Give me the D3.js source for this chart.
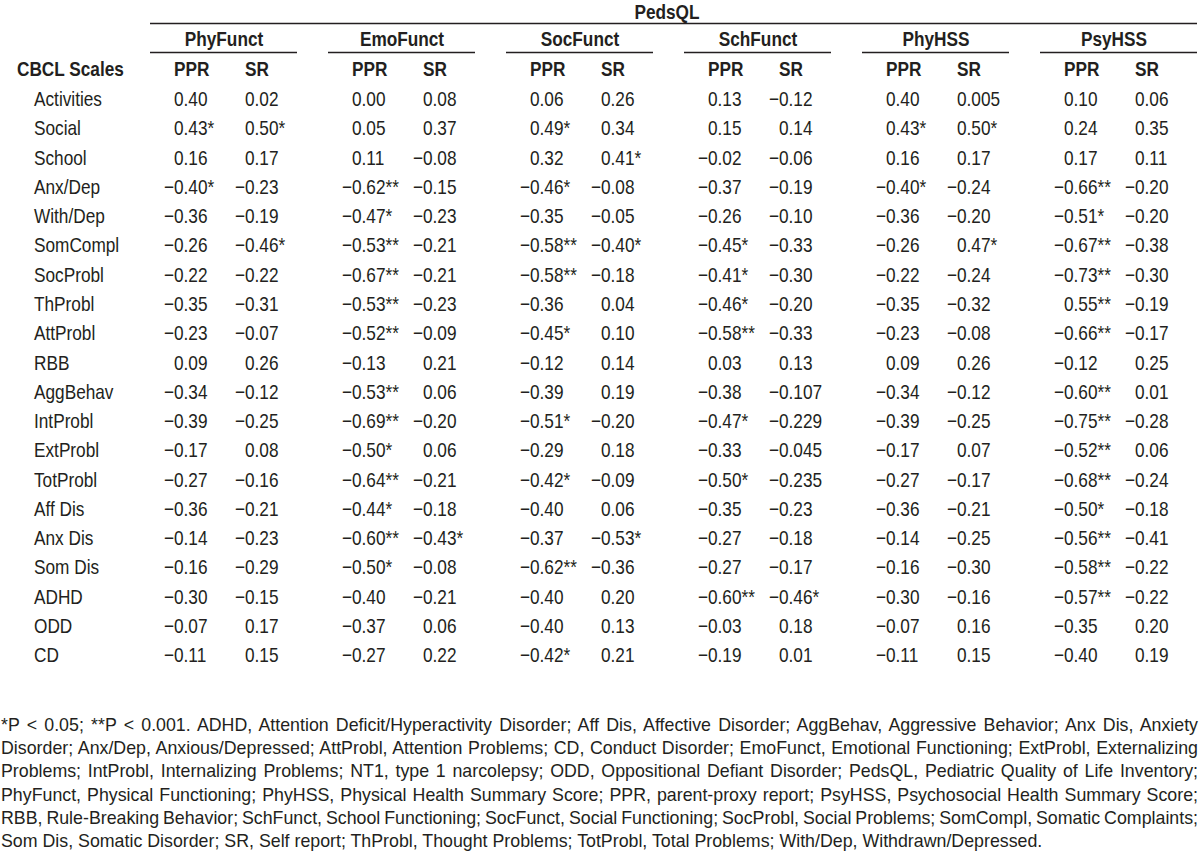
<!DOCTYPE html>
<html><head><meta charset="utf-8">
<script src="https://cdn.jsdelivr.net/npm/d3@7"></script>
<style>html,body{margin:0;padding:0;background:#fff;}svg{display:block;}</style>
</head><body>
<script>
// ---------- DATA ----------
const title = "PedsQL";
const groups = ["PhyFunct","EmoFunct","SocFunct","SchFunct","PhyHSS","PsyHSS"];
const subCols = ["PPR","SR"];
const rowHeader = "CBCL Scales";
const rows = ["Activities","Social","School","Anx/Dep","With/Dep","SomCompl","SocProbl","ThProbl","AttProbl","RBB","AggBehav","IntProbl","ExtProbl","TotProbl","Aff Dis","Anx Dis","Som Dis","ADHD","ODD","CD"];
const phyFunctPPR = ["0.40","0.43*","0.16","−0.40*","−0.36","−0.26","−0.22","−0.35","−0.23","0.09","−0.34","−0.39","−0.17","−0.27","−0.36","−0.14","−0.16","−0.30","−0.07","−0.11"];
const phyFunctSR  = ["0.02","0.50*","0.17","−0.23","−0.19","−0.46*","−0.22","−0.31","−0.07","0.26","−0.12","−0.25","0.08","−0.16","−0.21","−0.23","−0.29","−0.15","0.17","0.15"];
const emoFunctPPR = ["0.00","0.05","0.11","−0.62**","−0.47*","−0.53**","−0.67**","−0.53**","−0.52**","−0.13","−0.53**","−0.69**","−0.50*","−0.64**","−0.44*","−0.60**","−0.50*","−0.40","−0.37","−0.27"];
const emoFunctSR  = ["0.08","0.37","−0.08","−0.15","−0.23","−0.21","−0.21","−0.23","−0.09","0.21","0.06","−0.20","0.06","−0.21","−0.18","−0.43*","−0.08","−0.21","0.06","0.22"];
const socFunctPPR = ["0.06","0.49*","0.32","−0.46*","−0.35","−0.58**","−0.58**","−0.36","−0.45*","−0.12","−0.39","−0.51*","−0.29","−0.42*","−0.40","−0.37","−0.62**","−0.40","−0.40","−0.42*"];
const socFunctSR  = ["0.26","0.34","0.41*","−0.08","−0.05","−0.40*","−0.18","0.04","0.10","0.14","0.19","−0.20","0.18","−0.09","0.06","−0.53*","−0.36","0.20","0.13","0.21"];
const schFunctPPR = ["0.13","0.15","−0.02","−0.37","−0.26","−0.45*","−0.41*","−0.46*","−0.58**","0.03","−0.38","−0.47*","−0.33","−0.50*","−0.35","−0.27","−0.27","−0.60**","−0.03","−0.19"];
const schFunctSR  = ["−0.12","0.14","−0.06","−0.19","−0.10","−0.33","−0.30","−0.20","−0.33","0.13","−0.107","−0.229","−0.045","−0.235","−0.23","−0.18","−0.17","−0.46*","0.18","0.01"];
const phyHSSPPR   = ["0.40","0.43*","0.16","−0.40*","−0.36","−0.26","−0.22","−0.35","−0.23","0.09","−0.34","−0.39","−0.17","−0.27","−0.36","−0.14","−0.16","−0.30","−0.07","−0.11"];
const phyHSSSR    = ["0.005","0.50*","0.17","−0.24","−0.20","0.47*","−0.24","−0.32","−0.08","0.26","−0.12","−0.25","0.07","−0.17","−0.21","−0.25","−0.30","−0.16","0.16","0.15"];
const psyHSSPPR   = ["0.10","0.24","0.17","−0.66**","−0.51*","−0.67**","−0.73**","0.55**","−0.66**","−0.12","−0.60**","−0.75**","−0.52**","−0.68**","−0.50*","−0.56**","−0.58**","−0.57**","−0.35","−0.40"];
const psyHSSSR    = ["0.06","0.35","0.11","−0.20","−0.20","−0.38","−0.30","−0.19","−0.17","0.25","0.01","−0.28","0.06","−0.24","−0.18","−0.41","−0.22","−0.22","0.20","0.19"];
const footnoteLines = [
 "*P < 0.05; **P < 0.001. ADHD, Attention Deficit/Hyperactivity Disorder; Aff Dis, Affective Disorder; AggBehav, Aggressive Behavior; Anx Dis, Anxiety",
 "Disorder; Anx/Dep, Anxious/Depressed; AttProbl, Attention Problems; CD, Conduct Disorder; EmoFunct, Emotional Functioning; ExtProbl, Externalizing",
 "Problems; IntProbl, Internalizing Problems; NT1, type 1 narcolepsy; ODD, Oppositional Defiant Disorder; PedsQL, Pediatric Quality of Life Inventory;",
 "PhyFunct, Physical Functioning; PhyHSS, Physical Health Summary Score; PPR, parent-proxy report; PsyHSS, Psychosocial Health Summary Score;",
 "RBB, Rule-Breaking Behavior; SchFunct, School Functioning; SocFunct, Social Functioning; SocProbl, Social Problems; SomCompl, Somatic Complaints;",
 "Som Dis, Somatic Disorder; SR, Self report; ThProbl, Thought Problems; TotProbl, Total Problems; With/Dep, Withdrawn/Depressed."
];
const columns = [
  [phyFunctPPR, phyFunctSR],[emoFunctPPR, emoFunctSR],[socFunctPPR, socFunctSR],
  [schFunctPPR, schFunctSR],[phyHSSPPR, phyHSSSR],[psyHSSPPR, psyHSSSR]
];

// ---------- LAYOUT ----------
const W = 1200, H = 853;
const ink = "#231f20";
function hasFont(name){
  const c = document.createElement('canvas').getContext('2d');
  const s = 'Activities 0.40 WWW mmm';
  c.font = '20px monospace'; const a = c.measureText(s).width;
  c.font = `20px '${name}', monospace`; const b = c.measureText(s).width;
  return Math.abs(a-b) > 0.5;
}
const narrowOK = hasFont('Liberation Sans Narrow');
const tableFamily = narrowOK ? "'Liberation Sans Narrow', 'Arial Narrow', sans-serif" : "'Liberation Sans', Arial, sans-serif";
const squeeze = narrowOK ? 1 : 0.82;
const fs = 21;

const svg = d3.select("body").append("svg").attr("width", W).attr("height", H);

function squeezeText(sel){
  if (squeeze === 1) return;
  sel.each(function(){
    const w = this.getComputedTextLength();
    this.setAttribute("textLength", w*squeeze);
    this.setAttribute("lengthAdjust", "spacingAndGlyphs");
  });
}

const gx = d3.scaleBand().domain(groups).range([150, 150 + 178*groups.length]).paddingInner(0).paddingOuter(0);
const subOffset = d3.scaleOrdinal().domain(subCols).range([24, 95]);
const ry = d3.scaleLinear().domain([0, rows.length-1]).range([106, 106 + 29.28*(rows.length-1)]);

// measure minus width
const meas = svg.append("text").attr("font-family", tableFamily).attr("font-size", fs).text("−");
const minusW = meas.node().getComputedTextLength()*squeeze;
meas.remove();

// top rule + title
svg.append("text").attr("x", 667).attr("y", 19).attr("text-anchor","middle")
  .attr("font-family", tableFamily).attr("font-weight","bold").attr("font-size", fs).attr("fill", ink)
  .text(title).call(squeezeText);
svg.append("line").attr("x1",150).attr("x2",1197).attr("y1",23.5).attr("y2",23.5).attr("stroke",ink).attr("stroke-width",1.5);

// group headers
const gh = svg.append("g");
gh.selectAll("text").data(groups).join("text")
  .attr("x", d => gx(d) + 74).attr("y", 46).attr("text-anchor","middle")
  .attr("font-family", tableFamily).attr("font-weight","bold").attr("font-size", fs).attr("fill", ink)
  .text(d => d).call(squeezeText);
gh.selectAll("line").data(groups).join("line")
  .attr("x1", d => gx(d)).attr("x2", (d,i) => i === groups.length-1 ? 1197 : gx(d) + 147)
  .attr("y1", 52.5).attr("y2", 52.5).attr("stroke", ink).attr("stroke-width", 1.5);

// sub headers
svg.append("text").attr("x", 17).attr("y", 76)
  .attr("font-family", tableFamily).attr("font-weight","bold").attr("font-size", fs).attr("fill", ink)
  .text(rowHeader).call(squeezeText);
const subData = groups.flatMap(g => subCols.map(s => ({g, s})));
svg.append("g").selectAll("text").data(subData).join("text")
  .attr("x", d => gx(d.g) + subOffset(d.s)).attr("y", 76)
  .attr("font-family", tableFamily).attr("font-weight","bold").attr("font-size", fs).attr("fill", ink)
  .text(d => d.s).call(squeezeText);

// row labels
svg.append("g").selectAll("text").data(rows).join("text")
  .attr("x", 34).attr("y", (d,i) => ry(i))
  .attr("font-family", tableFamily).attr("font-size", fs).attr("fill", ink)
  .text(d => d).call(squeezeText);

// cells
const cells = [];
groups.forEach((g, gi) => subCols.forEach((s, si) => {
  columns[gi][si].forEach((v, ri) => cells.push({g, s, v, ri}));
}));
svg.append("g").selectAll("text").data(cells).join("text")
  .attr("x", d => gx(d.g) + subOffset(d.s) - (d.v.startsWith("−") ? minusW : 0))
  .attr("y", d => ry(d.ri))
  .attr("font-family", tableFamily).attr("font-size", fs).attr("fill", ink)
  .text(d => d.v).call(squeezeText);

// footnote (justified)
const ffs = 17.8;
const fy = d3.scaleLinear().domain([0, footnoteLines.length-1]).range([731, 731 + 23.2*(footnoteLines.length-1)]);
const fn = svg.append("g").selectAll("text").data(footnoteLines).join("text")
  .attr("x", 1).attr("y", (d,i) => fy(i))
  .attr("font-family", "'Liberation Sans', Arial, sans-serif").attr("font-size", ffs).attr("fill", ink)
  .text(d => d);
fn.each(function(d, i){
  if (i === footnoteLines.length-1) return;
  const w = this.getComputedTextLength();
  const spaces = (d.match(/ /g) || []).length;
  const extra = (1198 - 1 - w) / spaces;
  this.style.wordSpacing = extra + "px";
});
</script>
</body></html>
